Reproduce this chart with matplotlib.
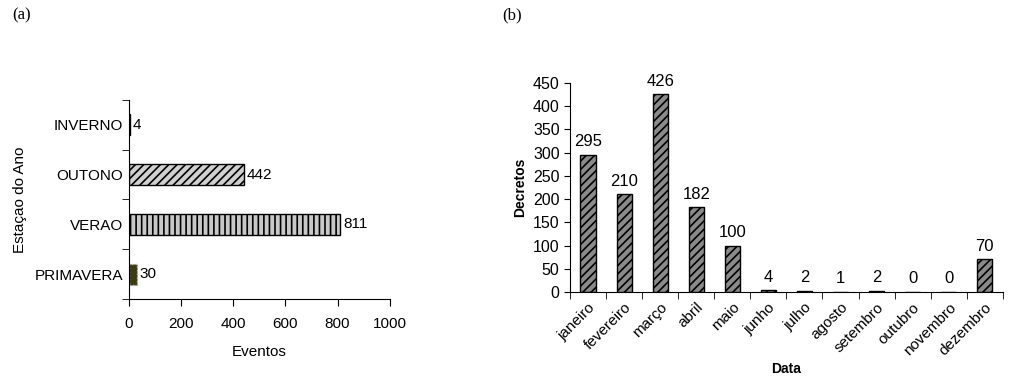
import matplotlib.pyplot as plt
import numpy as np

plt.rcParams['font.family'] = ['Liberation Sans', 'DejaVu Sans']
plt.rcParams['hatch.linewidth'] = 1.2

# (a) events by season
estacoes = ['PRIMAVERA', 'VERAO', 'OUTONO', 'INVERNO']
eventos = [30, 811, 442, 4]

# (b) decrees by month
meses = ['janeiro', 'fevereiro', 'março', 'abril', 'maio', 'junho', 'julho',
         'agosto', 'setembro', 'outubro', 'novembro', 'dezembro']
decretos = [295, 210, 426, 182, 100, 4, 2, 1, 2, 0, 0, 70]

fig = plt.figure(figsize=(10.15, 3.87), dpi=100)

# ---- (a)
ax1 = fig.add_axes([0.127, 0.227, 0.257, 0.515])
y = np.arange(len(estacoes))
styles = [dict(color='#3b3b14', edgecolor='#bbbbbb', hatch=None, linestyle=':'),
          dict(color='#c8c8c8', edgecolor='black', hatch='|||', linestyle='-'),
          dict(color='#d0d0d0', edgecolor='black', hatch='////', linestyle='-'),
          dict(color='black', edgecolor='black', hatch=None, linestyle='-')]
for yi, v, st in zip(y, eventos, styles):
    ax1.barh(yi, v, height=0.42, color=st['color'], edgecolor=st['edgecolor'],
             hatch=st['hatch'], linestyle=st['linestyle'], linewidth=1)
    ax1.text(v + 10, yi, str(v), va='center', ha='left', fontsize=11)
ax1.set_xlim(0, 1000)
ax1.set_ylim(-0.5, 3.5)
ax1.set_xticks([0, 200, 400, 600, 800, 1000])
ax1.set_yticks(y)
ax1.set_yticklabels(estacoes)
ax1.set_yticks(np.arange(-0.5, 4, 1), minor=True)
ax1.tick_params(axis='y', which='major', length=0, labelsize=11, pad=4)
ax1.tick_params(axis='y', which='minor', length=5, direction='out')
ax1.tick_params(axis='x', length=5, direction='out', labelsize=11, pad=8)
ax1.spines['top'].set_visible(False)
ax1.spines['right'].set_visible(False)
ax1.set_xlabel('Eventos', fontsize=11, labelpad=10)
ax1.set_ylabel('Estaçao do Ano', fontsize=11, labelpad=6)

# ---- (b)
ax2 = fig.add_axes([0.5616, 0.2455, 0.4264, 0.54])
x = np.arange(len(meses))
ax2.bar(x, decretos, width=0.42, color='#8a8a8a', edgecolor='black',
        hatch='////', linewidth=1)
for xi, v in zip(x, decretos):
    ax2.text(xi, v + 12, str(v), ha='center', va='bottom', fontsize=12)
ax2.set_xlim(-0.5, len(meses) - 0.5)
ax2.set_ylim(0, 450)
ax2.set_yticks(range(0, 451, 50))
ax2.set_xticks(x)
ax2.set_xticklabels(meses, rotation=45, ha='right', rotation_mode='anchor')
ax2.set_xticks(np.arange(-0.5, len(meses), 1), minor=True)
ax2.tick_params(axis='x', which='major', length=0, labelsize=11, pad=6)
ax2.tick_params(axis='x', which='minor', length=5, direction='out')
ax2.tick_params(axis='y', length=4, direction='out', labelsize=11.5)
ax2.spines['top'].set_visible(False)
ax2.spines['right'].set_visible(False)
ax2.set_xlabel('Data', fontsize=10, fontweight='bold', labelpad=3)
ax2.set_ylabel('Decretos', fontsize=10, fontweight='bold')

fig.text(12 / 1015, 1 - 15 / 387, '(a)', family='Liberation Serif', fontsize=12, va='center')
fig.text(502 / 1015, 1 - 15 / 387, '(b)', family='Liberation Serif', fontsize=12, va='center')

fig.savefig('out.png', dpi=100)
